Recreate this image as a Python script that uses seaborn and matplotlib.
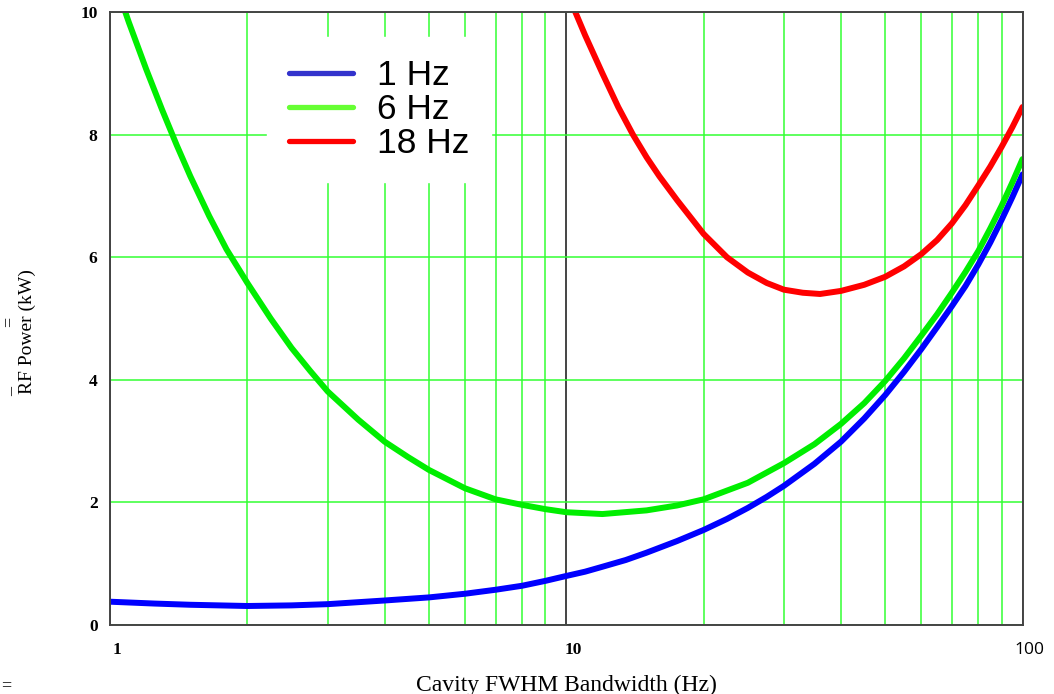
import matplotlib
matplotlib.use("Agg")
import matplotlib.pyplot as plt
import matplotlib.transforms as mtransforms
from matplotlib.lines import Line2D
from matplotlib.ticker import LogLocator, FixedLocator, NullFormatter
import seaborn as sns
import pandas as pd

# ---- data ----
bw_1hz = [1, 1.25, 1.5, 2, 2.5, 3, 4, 5, 6, 7, 8, 9, 10, 11, 12, 13.5, 15, 17.5, 20, 22.5,
          25, 27.5, 30, 35, 40, 45, 50, 55, 60, 65, 70, 75, 80, 85, 90, 95, 100]
p_1hz = [0.38, 0.35, 0.33, 0.31, 0.32, 0.34, 0.40, 0.45, 0.51, 0.575, 0.64, 0.72, 0.80, 0.87,
         0.95, 1.06, 1.18, 1.37, 1.55, 1.73, 1.91, 2.09, 2.27, 2.63, 2.99, 3.37, 3.75, 4.13,
         4.50, 4.86, 5.20, 5.53, 5.88, 6.24, 6.61, 6.98, 7.35]

bw_6hz = [1, 1.1, 1.2, 1.3, 1.4, 1.5, 1.65, 1.8, 2, 2.25, 2.5, 2.75, 3, 3.5, 4, 4.5, 5, 6, 7,
          8, 9, 10, 12, 15, 17.5, 20, 25, 30, 35, 40, 45, 50, 55, 60, 65, 70, 75, 80, 85, 90,
          95, 100]
p_6hz = [10.72, 9.83, 9.07, 8.41, 7.83, 7.32, 6.67, 6.13, 5.58, 5.0, 4.52, 4.14, 3.81, 3.35,
         2.99, 2.74, 2.53, 2.23, 2.05, 1.96, 1.89, 1.84, 1.81, 1.87, 1.95, 2.05, 2.32, 2.64,
         2.95, 3.28, 3.62, 3.98, 4.35, 4.72, 5.07, 5.42, 5.76, 6.10, 6.47, 6.84, 7.22, 7.60]

bw_18hz = [10, 11, 12, 13, 14, 15, 16, 17.5, 20, 22.5, 25, 27.5, 30, 33, 36, 40, 45, 50, 55,
           60, 65, 70, 75, 80, 85, 90, 95, 100]
p_18hz = [10.35, 9.62, 9.0, 8.45, 8.0, 7.63, 7.32, 6.93, 6.38, 6.0, 5.75, 5.58, 5.47, 5.42,
          5.40, 5.45, 5.55, 5.68, 5.85, 6.05, 6.28, 6.55, 6.85, 7.17, 7.48, 7.80, 8.12, 8.45]

series_names = ["1 Hz", "6 Hz", "18 Hz"]
line_colors = ["#0000ff", "#00ee00", "#ff0000"]
legend_colors = ["#3333cc", "#66ff33", "#ff0000"]
x_tick_values = [1, 10, 100]
x_tick_labels = ["1", "10", "100"]
y_tick_values = [0, 2, 4, 6, 8, 10]

df = pd.concat([
    pd.DataFrame({"bw": bw_1hz, "p": p_1hz, "s": series_names[0]}),
    pd.DataFrame({"bw": bw_6hz, "p": p_6hz, "s": series_names[1]}),
    pd.DataFrame({"bw": bw_18hz, "p": p_18hz, "s": series_names[2]}),
])

sns.set_style("white")
plt.rcParams["font.family"] = ["Liberation Serif", "DejaVu Serif"]
plt.rcParams["text.color"] = "black"
plt.rcParams["axes.labelcolor"] = "black"
plt.rcParams["xtick.color"] = "black"
plt.rcParams["ytick.color"] = "black"

fig = plt.figure(figsize=(10.54, 6.94), dpi=100)
ax = fig.add_axes([110 / 1054, 1 - 625 / 694, (1022.5 - 110) / 1054, (625 - 12) / 694])

sns.lineplot(data=df, x="bw", y="p", hue="s", palette=dict(zip(series_names, line_colors)),
             linewidth=4.3, legend=False, ax=ax, sort=False)

ax.set_xscale("log")
ax.set_xlim(1, 100)
ax.set_ylim(0, 10)
ax.xaxis.set_major_locator(FixedLocator(x_tick_values))
ax.set_xticks(x_tick_values)
ax.set_xticklabels(x_tick_labels)
ax.xaxis.set_minor_locator(LogLocator(base=10, subs=[2, 3, 4, 5, 6, 7, 8, 9]))
ax.xaxis.set_minor_formatter(NullFormatter())
ax.set_yticks(y_tick_values)

ax.set_axisbelow(True)
ax.xaxis.grid(True, which="minor", color="#33ff33", linewidth=1.1)
ax.xaxis.grid(True, which="major", color="#444444", linewidth=1.4)
ax.yaxis.grid(True, which="major", color="#33ff33", linewidth=1.1)

for sp in ax.spines.values():
    sp.set_color("#444444")
    sp.set_linewidth(1.4)

ax.tick_params(axis="both", which="both", length=0, labelcolor="black")
ax.tick_params(axis="y", pad=9)
ax.tick_params(axis="x", pad=12)
for lab in ax.get_yticklabels():
    lab.set_fontsize(12.5)
    lab.set_fontweight("bold")
shift = mtransforms.ScaledTranslation(7 / 100, 0, fig.dpi_scale_trans)
for lab in ax.get_xticklabels():
    lab.set_fontsize(12.5)
    lab.set_fontweight("bold")
    lab.set_transform(lab.get_transform() + shift)
    if lab.get_text() == "100":
        lab.set_fontfamily(["Open Sans", "DejaVu Sans"])
        lab.set_fontweight("normal")

ax.set_xlabel("Cavity FWHM Bandwidth (Hz)", fontsize=17, labelpad=12, color="black")
ax.set_ylabel("RF Power (kW)", fontsize=14, color="black")
ax.yaxis.set_label_coords(-0.081, 0.478)

handles = [Line2D([], [], color=c, linewidth=3.8) for c in legend_colors]
leg = ax.legend(handles, series_names, loc="upper left",
                bbox_to_anchor=(267 / 1054, 1 - 37 / 694), bbox_transform=fig.transFigure,
                frameon=True, fancybox=False, framealpha=1, edgecolor="white",
                facecolor="white", borderpad=0.62, labelspacing=0.03, handlelength=1.81,
                handletextpad=0.68, borderaxespad=0, labelcolor="black",
                prop={"family": ["Liberation Sans", "DejaVu Sans"], "size": 25.5})

fig.text(9 / 1054, 1 - 322 / 694, "=", rotation=90, fontsize=13, ha="center", va="center")
fig.text(7 / 1054, 1 - 392 / 694, "_", rotation=90, fontsize=13, ha="center", va="center")
fig.text(6 / 1054, 1 - 686 / 694, "=", fontsize=13, ha="center", va="center")

fig.savefig("out.png", dpi=100)
